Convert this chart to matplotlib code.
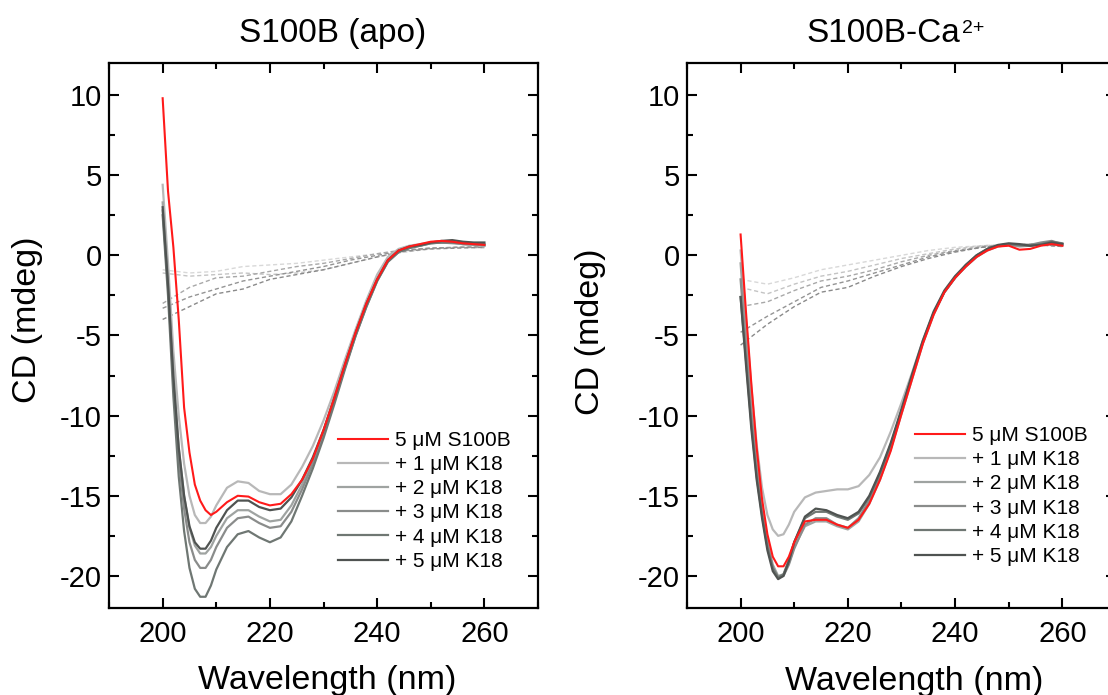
import numpy as np
import matplotlib.pyplot as plt
from matplotlib.ticker import MultipleLocator

plt.rcParams['font.family'] = ['Liberation Sans', 'DejaVu Sans']
plt.rcParams['axes.unicode_minus'] = False

# wavelength grid (nm)
wl = [200, 201, 202, 203, 204, 205, 206, 207, 208, 209, 210, 212, 214, 216, 218,
      220, 222, 224, 226, 228, 230, 232, 234, 236, 238, 240, 242, 244, 246, 248,
      250, 252, 254, 256, 258, 260]
wl_k18 = [200, 205, 210, 215, 220, 225, 230, 235, 240, 245, 250, 255, 260]

labels = ['5 μM S100B', '+ 1 μM K18', '+ 2 μM K18', '+ 3 μM K18', '+ 4 μM K18', '+ 5 μM K18']
colors = ['#ff1a1a', '#b8b8b8', '#9fa3a1', '#8a8c8b', '#6f7773', '#4f5351']
k18_colors = ['#d8d8d8', '#c4c4c4', '#a8a8a8', '#949494', '#8a8a8a']

# S100B (apo)
apo_s100b = [9.8, 4.0, 0.5, -4.0, -9.5, -12.3, -14.3, -15.3, -15.9, -16.2, -16.0, -15.4, -15.0,
             -15.05, -15.4, -15.6, -15.5, -14.9, -14.0, -12.7, -10.9, -8.9, -6.8, -4.8, -3.0,
             -1.5, -0.3, 0.3, 0.55, 0.7, 0.85, 0.9, 0.85, 0.75, 0.7, 0.65]
apo_k1 = [4.4, -0.5, -6.0, -10.0, -13.0, -15.0, -16.2, -16.7, -16.7, -16.3, -15.6, -14.5, -14.1,
          -14.2, -14.7, -14.9, -14.9, -14.3, -13.2, -11.9, -10.3, -8.5, -6.5, -4.6, -2.8,
          -1.2, -0.1, 0.4, 0.6, 0.7, 0.8, 0.85, 0.8, 0.7, 0.65, 0.6]
apo_k2 = [3.3, -1.5, -7.5, -12.0, -15.0, -17.0, -18.1, -18.6, -18.6, -18.2, -17.5, -16.4, -15.9,
          -15.9, -16.3, -16.6, -16.5, -15.6, -14.3, -12.8, -11.0, -9.0, -6.9, -4.9, -3.1,
          -1.5, -0.3, 0.3, 0.5, 0.6, 0.8, 0.8, 0.75, 0.7, 0.65, 0.6]
apo_k3 = [2.8, -2.0, -8.0, -12.7, -15.8, -17.9, -19.0, -19.5, -19.5, -19.0, -18.2, -17.0, -16.4,
          -16.3, -16.7, -17.0, -16.9, -16.0, -14.6, -13.0, -11.2, -9.1, -7.0, -5.0, -3.2,
          -1.6, -0.4, 0.2, 0.5, 0.6, 0.75, 0.8, 0.8, 0.7, 0.7, 0.65]
apo_k4 = [2.5, -2.5, -8.8, -13.8, -17.2, -19.5, -20.8, -21.3, -21.3, -20.6, -19.6, -18.2, -17.4,
          -17.2, -17.6, -17.9, -17.6, -16.6, -15.0, -13.3, -11.4, -9.3, -7.1, -5.0, -3.2,
          -1.6, -0.4, 0.2, 0.45, 0.6, 0.75, 0.8, 0.8, 0.75, 0.7, 0.7]
apo_k5 = [3.0, -1.8, -7.6, -12.0, -15.0, -16.9, -17.9, -18.3, -18.3, -17.8, -17.0, -15.9, -15.3,
          -15.3, -15.7, -15.9, -15.8, -15.1, -14.0, -12.6, -10.9, -8.9, -6.8, -4.8, -3.0,
          -1.5, -0.3, 0.3, 0.55, 0.65, 0.8, 0.9, 0.95, 0.85, 0.8, 0.8]
apo_k18 = [
    [-0.9, -1.1, -1.0, -0.7, -0.6, -0.5, -0.3, -0.1, 0.1, 0.3, 0.4, 0.5, 0.45],
    [-1.1, -1.3, -1.2, -1.1, -1.2, -1.1, -0.9, -0.5, -0.1, 0.2, 0.4, 0.5, 0.5],
    [-3.0, -2.0, -1.4, -1.3, -1.0, -0.7, -0.5, -0.2, 0.1, 0.35, 0.45, 0.5, 0.5],
    [-3.3, -2.6, -2.1, -1.6, -1.3, -1.0, -0.7, -0.3, 0.0, 0.3, 0.45, 0.5, 0.55],
    [-4.0, -3.2, -2.4, -2.1, -1.5, -1.2, -0.9, -0.5, -0.1, 0.25, 0.4, 0.45, 0.5],
]

# S100B-Ca2+
ca_s100b = [1.3, -3.5, -8.0, -12.0, -15.2, -17.4, -18.8, -19.4, -19.4, -18.8, -17.9, -16.6, -16.5,
            -16.5, -16.8, -17.0, -16.5, -15.5, -14.0, -12.2, -9.9, -7.7, -5.5, -3.7, -2.3,
            -1.4, -0.7, -0.1, 0.3, 0.55, 0.6, 0.35, 0.4, 0.6, 0.7, 0.6]
ca_k1 = [0.3, -4.0, -8.2, -11.8, -14.5, -16.2, -17.1, -17.5, -17.4, -16.8, -16.0, -15.1, -14.8,
         -14.7, -14.6, -14.6, -14.4, -13.7, -12.6, -11.0, -9.2, -7.3, -5.3, -3.6, -2.2,
         -1.3, -0.6, -0.05, 0.35, 0.6, 0.7, 0.6, 0.6, 0.7, 0.8, 0.7]
ca_k2 = [-0.5, -5.0, -9.5, -13.0, -15.6, -17.8, -19.3, -20.0, -19.9, -19.2, -18.2, -16.9, -16.6,
         -16.6, -16.9, -17.1, -16.6, -15.5, -14.0, -12.1, -9.9, -7.7, -5.5, -3.7, -2.3,
         -1.4, -0.7, -0.1, 0.3, 0.55, 0.65, 0.55, 0.6, 0.75, 0.8, 0.6]
ca_k3 = [-1.5, -5.8, -10.0, -13.4, -15.9, -18.0, -19.5, -20.1, -20.0, -19.3, -18.3, -16.8, -16.4,
         -16.4, -16.8, -17.0, -16.4, -15.3, -13.8, -11.9, -9.7, -7.5, -5.4, -3.6, -2.3,
         -1.4, -0.7, -0.1, 0.35, 0.6, 0.7, 0.6, 0.65, 0.8, 0.9, 0.7]
ca_k4 = [-2.6, -6.5, -10.5, -13.8, -16.2, -18.2, -19.5, -20.1, -19.9, -19.0, -17.9, -16.4, -16.0,
         -16.0, -16.3, -16.5, -16.1, -15.1, -13.6, -11.8, -9.7, -7.5, -5.4, -3.6, -2.3,
         -1.4, -0.6, 0.0, 0.4, 0.6, 0.7, 0.65, 0.6, 0.7, 0.85, 0.75]
ca_k5 = [-2.6, -6.8, -10.8, -14.0, -16.4, -18.4, -19.7, -20.2, -20.0, -19.1, -17.9, -16.3, -15.8,
         -15.9, -16.2, -16.4, -16.0, -15.0, -13.5, -11.7, -9.6, -7.4, -5.3, -3.5, -2.2,
         -1.3, -0.6, 0.0, 0.4, 0.65, 0.75, 0.7, 0.6, 0.65, 0.8, 0.7]
ca_k18 = [
    [-1.5, -1.8, -1.4, -0.9, -0.6, -0.3, 0.0, 0.3, 0.5, 0.6, 0.7, 0.7, 0.6],
    [-2.0, -2.4, -1.8, -1.3, -1.0, -0.6, -0.2, 0.1, 0.4, 0.6, 0.65, 0.7, 0.6],
    [-3.2, -2.9, -2.2, -1.6, -1.3, -0.9, -0.4, 0.0, 0.3, 0.55, 0.65, 0.7, 0.6],
    [-4.8, -3.8, -2.9, -2.0, -1.6, -1.1, -0.6, -0.1, 0.25, 0.5, 0.65, 0.7, 0.55],
    [-5.6, -4.3, -3.2, -2.3, -2.0, -1.3, -0.7, -0.2, 0.2, 0.5, 0.6, 0.65, 0.55],
]

panels = [
    ([apo_s100b, apo_k1, apo_k2, apo_k3, apo_k4, apo_k5], apo_k18),
    ([ca_s100b, ca_k1, ca_k2, ca_k3, ca_k4, ca_k5], ca_k18),
]

fig = plt.figure(figsize=(11.08, 6.95), dpi=100)
ax_pos = [[0.0984, 0.1252, 0.3872, 0.7842], [0.6200, 0.1252, 0.3872, 0.7842]]
leg_anchor = [(0.534, 0.325), (0.531, 0.334)]

for k, (solid, dashed) in enumerate(panels):
    ax = fig.add_axes(ax_pos[k])
    for d, c in zip(dashed, k18_colors):
        ax.plot(wl_k18, d, color=c, lw=1.0, ls=(0, (3, 2)))
    # grey titrations first, red on top
    for y, c, lab in list(zip(solid, colors, labels))[1:]:
        ax.plot(wl, y, color=c, lw=1.6, label=lab)
    ax.plot(wl, solid[0], color=colors[0], lw=1.5, label=labels[0])

    ax.set_xlim(190, 270)
    ax.set_ylim(-22, 12)
    ax.xaxis.set_major_locator(MultipleLocator(20))
    ax.xaxis.set_minor_locator(MultipleLocator(10))
    ax.yaxis.set_major_locator(MultipleLocator(5))
    ax.yaxis.set_minor_locator(MultipleLocator(2.5))
    ax.tick_params(which='both', direction='in', top=True, right=True, width=1.5)
    ax.tick_params(which='major', length=7, labelsize=21)
    ax.tick_params(which='minor', length=4)
    ax.tick_params(axis='x', pad=9)
    ax.tick_params(axis='y', pad=5)
    for s in ax.spines.values():
        s.set_linewidth(1.6)

    h, l = ax.get_legend_handles_labels()
    h = [h[l.index(t)] for t in labels]
    ax.legend(h, labels, loc='upper left', bbox_to_anchor=leg_anchor[k], frameon=False,
              fontsize=15, borderpad=0, borderaxespad=0, handlelength=2.4,
              handletextpad=0.35, labelspacing=0.25)

fig.text(333 / 1108, 1 - 42 / 695, 'S100B (apo)', ha='center', va='baseline', fontsize=24)
fig.text(806 / 1108, 1 - 42 / 695, 'S100B-Ca', ha='left', va='baseline', fontsize=24)
fig.text(962 / 1108, 1 - 33 / 695, '2+', ha='left', va='baseline', fontsize=14)
fig.text(327 / 1108, 1 - 689 / 695, 'Wavelength (nm)', ha='center', va='baseline', fontsize=24.5)
fig.text(914 / 1108, 1 - 690 / 695, 'Wavelength (nm)', ha='center', va='baseline', fontsize=24.5)
fig.text(28 / 1108, 1 - 320 / 695, 'CD (mdeg)', ha='center', va='center', rotation=90, fontsize=24.5)
fig.text(590 / 1108, 1 - 332 / 695, 'CD (mdeg)', ha='center', va='center', rotation=90, fontsize=24.5)

fig.savefig('out.png', dpi=100)
